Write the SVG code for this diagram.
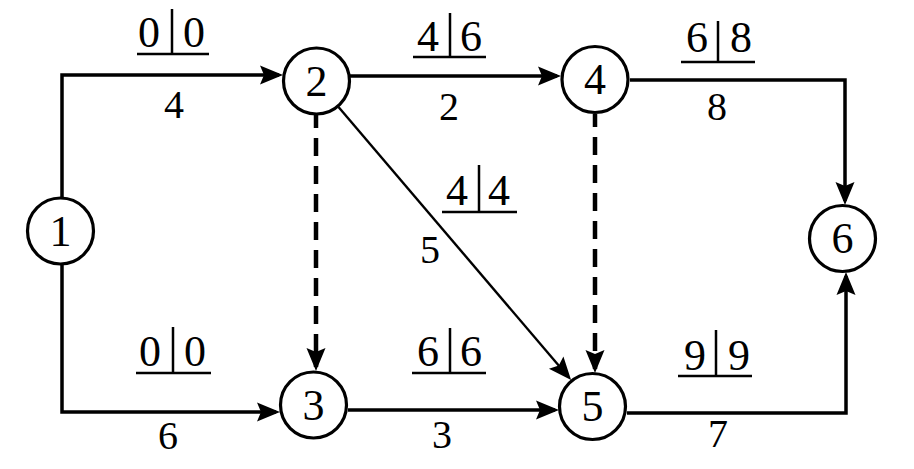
<svg xmlns="http://www.w3.org/2000/svg" width="914" height="469" viewBox="0 0 914 469">
<defs>
<style>
.node circle{fill:#fff;stroke:#000;stroke-width:3.2}
.node text{font-family:'Liberation Serif','Times New Roman',serif;font-size:44px;text-anchor:middle;fill:#000}
.edge{fill:none;stroke:#000;stroke-width:3.5}
.thin{stroke-width:2.4}
.dash{stroke-width:4.5;stroke-dasharray:18 10;stroke-dashoffset:5}
.lbl text{font-family:'Liberation Serif','Times New Roman',serif;fill:#000}
.fr{font-size:44px}
.du{font-size:40px;text-anchor:middle}
.lbl line{stroke:#000;stroke-width:2.5}
</style>
<marker id="ah" viewBox="-20 -10 24 20" refX="0" refY="0" markerWidth="24" markerHeight="20" markerUnits="userSpaceOnUse" orient="auto">
<path d="M4,0 L-19,-9.5 L-15,0 L-19,9.5 Z" fill="#000"/>
</marker>
</defs>
<rect width="914" height="469" fill="#fff"/>
<g id="connectors">
<path class="edge" d="M62,197 V75 H279" marker-end="url(#ah)"/>
<path class="edge" d="M62,265 V412 H276" marker-end="url(#ah)"/>
<path class="edge" d="M350,76 H557" marker-end="url(#ah)"/>
<path class="edge" d="M348,410 H555" marker-end="url(#ah)"/>
<path class="edge" d="M630,80 H845 V201" marker-end="url(#ah)"/>
<path class="edge" d="M627,413 H846 V276" marker-end="url(#ah)"/>
<path class="edge thin" d="M338.5,107 L568.5,377" marker-end="url(#ah)"/>
<path class="edge dash" d="M316,115 V367" marker-end="url(#ah)"/>
<path class="edge dash" d="M595,114 V369" marker-end="url(#ah)"/>
</g>
<g id="labels" class="lbl">
<g id="l12">
<text class="fr" x="160" y="47" text-anchor="end">0</text><text class="fr" x="183" y="47">0</text>
<line x1="172" y1="9" x2="172" y2="54"/><line x1="137" y1="54" x2="209" y2="54"/>
<text class="du" x="174" y="118">4</text>
</g>
<g id="l24">
<text class="fr" x="439" y="51" text-anchor="end">4</text><text class="fr" x="460" y="51">6</text>
<line x1="450" y1="13" x2="450" y2="57"/><line x1="413" y1="57" x2="486" y2="57"/>
<text class="du" x="449" y="120">2</text>
</g>
<g id="l46">
<text class="fr" x="708" y="52" text-anchor="end">6</text><text class="fr" x="730" y="52">8</text>
<line x1="718" y1="21" x2="718" y2="62"/><line x1="681" y1="62" x2="755" y2="62"/>
<text class="du" x="717" y="120">8</text>
</g>
<g id="l25">
<text class="fr" x="468" y="205" text-anchor="end">4</text><text class="fr" x="488" y="205">4</text>
<line x1="479" y1="165" x2="479" y2="212"/><line x1="442" y1="212" x2="517" y2="212"/>
<text class="du" x="430" y="263">5</text>
</g>
<g id="l13">
<text class="fr" x="161" y="366" text-anchor="end">0</text><text class="fr" x="184" y="366">0</text>
<line x1="173" y1="327" x2="173" y2="373"/><line x1="136" y1="373" x2="211" y2="373"/>
<text class="du" x="168" y="449">6</text>
</g>
<g id="l35">
<text class="fr" x="439" y="366" text-anchor="end">6</text><text class="fr" x="460" y="366">6</text>
<line x1="450" y1="328" x2="450" y2="373"/><line x1="412" y1="373" x2="486" y2="373"/>
<text class="du" x="442" y="448">3</text>
</g>
<g id="l56">
<text class="fr" x="706" y="370" text-anchor="end">9</text><text class="fr" x="728" y="370">9</text>
<line x1="716" y1="330" x2="716" y2="376"/><line x1="678" y1="376" x2="752" y2="376"/>
<text class="du" x="718" y="447">7</text>
</g>
</g>
<g id="nodes">
<g id="n1" class="node"><circle cx="60.5" cy="231" r="33"/><text x="60.5" y="246">1</text></g>
<g id="n2" class="node"><circle cx="316.5" cy="81" r="33"/><text x="316.5" y="96">2</text></g>
<g id="n3" class="node"><circle cx="313.5" cy="405" r="33"/><text x="313.5" y="420">3</text></g>
<g id="n4" class="node"><circle cx="595" cy="79.5" r="33"/><text x="595" y="94">4</text></g>
<g id="n5" class="node"><circle cx="592.5" cy="406.5" r="33"/><text x="592.5" y="421">5</text></g>
<g id="n6" class="node"><circle cx="842.5" cy="238.5" r="33"/><text x="842.5" y="253">6</text></g>
</g>
</svg>
